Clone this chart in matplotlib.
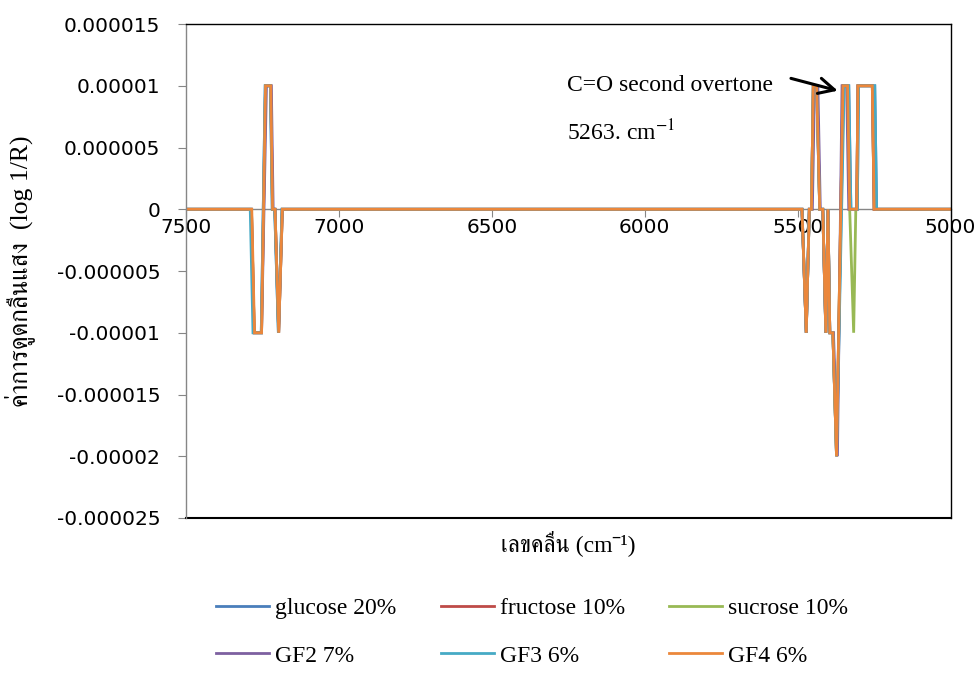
import matplotlib
matplotlib.use('Agg')
import matplotlib.pyplot as plt
from matplotlib import font_manager
from matplotlib.ft2font import FT2Font
from matplotlib.ticker import FuncFormatter, MultipleLocator
from matplotlib.lines import Line2D

plt.rcParams['mathtext.fontset'] = 'stix'

# find something that can draw Thai
thai_fonts = []
for f in font_manager.fontManager.ttflist:
    try:
        if FT2Font(f.fname).get_char_index(0x0E04):
            thai_fonts.append(f.name)
    except Exception:
        pass
thai_fonts = sorted(set(thai_fonts), key=lambda n: ('Serif' not in n, n))
serif = ['Liberation Serif'] + thai_fonts[:1] + ['DejaVu Sans']

labels = ['glucose 20%', 'fructose 10%', 'sucrose 10%', 'GF2 7%', 'GF3 6%', 'GF4 6%']
colors = ['#4A7EBB', '#BE4B48', '#98B954', '#7D60A0', '#46AAC5', '#EB873B']

# (wavenumber cm-1, log 1/R) nodes for each sample
glucose_wn = [7500, 7287, 7278, 7254, 7241, 7224, 7218, 7210, 7198, 7186,
              5486, 5472, 5462, 5455, 5449, 5438, 5428, 5418, 5408, 5401,
              5395, 5385, 5373, 5350, 5333, 5326, 5305, 5301, 5248, 5242, 5000]
glucose_y = [0, 0, -1e-5, -1e-5, 1e-5, 1e-5, 0, 0, -1e-5, 0,
             0, -1e-5, 0, 0, 1e-5, 1e-5, 0, 0, -1e-5, 0,
             -1e-5, -1e-5, -2e-5, 1e-5, 1e-5, 0, 0, 1e-5, 1e-5, 0, 0]

fructose_wn = [7500, 7286, 7277, 7253, 7240, 7223, 7217, 7209, 7197, 7185,
               5486, 5472, 5462, 5455, 5449, 5437, 5428, 5418, 5408, 5401,
               5395, 5385, 5373, 5352, 5337, 5330, 5307, 5303, 5256, 5250, 5000]
fructose_y = glucose_y

sucrose_wn = [7500, 7286, 7277, 7253, 7240, 7223, 7217, 7209, 7197, 7185,
              5486, 5472, 5462, 5455, 5449, 5437, 5428, 5418, 5408, 5401,
              5395, 5385, 5373, 5352, 5337, 5330, 5317, 5310, 5307, 5303, 5256, 5250, 5000]
sucrose_y = [0, 0, -1e-5, -1e-5, 1e-5, 1e-5, 0, 0, -1e-5, 0,
             0, -1e-5, 0, 0, 1e-5, 1e-5, 0, 0, -1e-5, 0,
             -1e-5, -1e-5, -2e-5, 1e-5, 1e-5, 0, -1e-5, 0, 0, 1e-5, 1e-5, 0, 0]

gf2_wn = [7500, 7286, 7277, 7253, 7237, 7221, 7215, 7209, 7197, 7185,
          5486, 5472, 5462, 5452, 5445, 5434, 5426, 5418, 5408, 5401,
          5395, 5383, 5370, 5355, 5340, 5333, 5307, 5303, 5256, 5250, 5000]
gf2_y = glucose_y

gf3_wn = [7500, 7290, 7281, 7254, 7241, 7224, 7218, 7210, 7198, 7186,
          5486, 5472, 5462, 5455, 5449, 5438, 5428, 5418, 5408, 5401,
          5395, 5385, 5373, 5348, 5333, 5326, 5305, 5301, 5248, 5242, 5000]
gf3_y = glucose_y

gf4_wn = [7500, 7285, 7276, 7253, 7240, 7223, 7217, 7209, 7197, 7185,
          5486, 5472, 5462, 5455, 5449, 5438, 5428, 5418, 5408, 5401,
          5395, 5385, 5373, 5352, 5337, 5330, 5307, 5303, 5256, 5250, 5000]
gf4_y = glucose_y

series = [(glucose_wn, glucose_y), (fructose_wn, fructose_y), (sucrose_wn, sucrose_y),
          (gf2_wn, gf2_y), (gf3_wn, gf3_y), (gf4_wn, gf4_y)]

x_ticks = [7500, 7000, 6500, 6000, 5500, 5000]

fig = plt.figure(figsize=(9.79, 6.75), dpi=100)
ax = fig.add_axes([0.190, 0.2326, 0.781, 0.7318])

handles = []
for (wn, y), lab, c in zip(series, labels, colors):
    h, = ax.plot(wn, y, color=c, lw=2.0, label=lab, solid_joinstyle='miter')
    handles.append(h)

ax.set_xlim(7500, 5000)
ax.set_ylim(-0.000025, 0.000015)
ax.set_xticks(x_ticks)
ax.yaxis.set_major_locator(MultipleLocator(0.000005))


def yfmt(v, pos):
    s = f'{v:.6f}'.rstrip('0').rstrip('.')
    return '0' if s in ('0', '-0') else s


ax.yaxis.set_major_formatter(FuncFormatter(yfmt))

grey = '#868686'
ax.spines['bottom'].set_position(('data', 0))
ax.spines['bottom'].set_color(grey)
ax.spines['bottom'].set_zorder(1)
ax.spines['left'].set_color(grey)
ax.spines['top'].set_color('black')
ax.spines['right'].set_color('black')
for s in ax.spines.values():
    s.set_linewidth(1.0)
ax.add_line(Line2D([0, 1], [0, 0], transform=ax.transAxes, color='black',
                   lw=1.5, clip_on=False))
ax.tick_params(axis='both', colors=grey, labelcolor='black', length=5.5,
               labelsize=14.5, direction='out')
ax.tick_params(axis='y', pad=13)
ax.tick_params(axis='x', pad=1)

ax.set_ylabel('ค่าการดูดกลืนแสง  (log 1/R)', family=serif, fontsize=18.5)
ax.yaxis.set_label_coords(-0.198, 0.5)
ax.set_xlabel('เลขคลื่น (cm⁻¹)', family=serif, fontsize=17)
ax.xaxis.set_label_coords(0.5, -0.025)

# annotation
ax.text(6255, 0.00001, 'C=O second overtone', fontsize=17, family=serif, va='center')
ax.text(6255, 0.0000062, '5263. cm$^{-1}$', fontsize=17, family=serif, va='center')
ax.annotate('', xy=(5369, 0.0000096), xytext=(5522, 0.0000106),
            arrowprops=dict(arrowstyle='->', color='black', lw=2.2,
                            mutation_scale=28, shrinkA=0, shrinkB=0))

order = [0, 3, 1, 4, 2, 5]
fig.legend([handles[i] for i in order], [labels[i] for i in order], ncol=3,
           loc='upper left', bbox_to_anchor=(0.199, 0.146), frameon=False,
           prop={'family': serif, 'size': 17}, handlelength=2.25,
           handletextpad=0.25, columnspacing=1.88, labelspacing=1.1)

fig.savefig('out.png', dpi=100)
